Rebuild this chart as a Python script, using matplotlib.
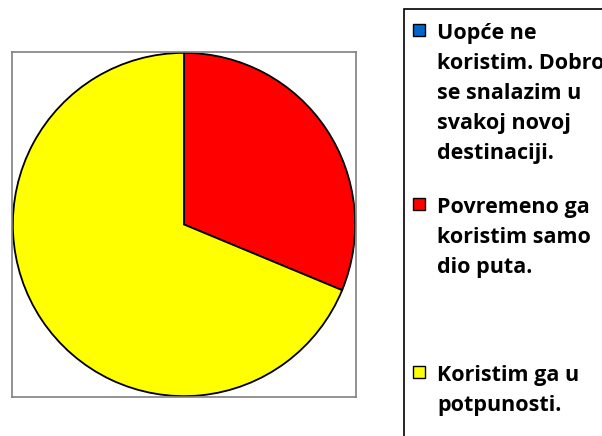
import matplotlib.pyplot as plt
from matplotlib.patches import Rectangle

# survey answers (counts)
labels = [
    "Uopće ne\nkoristim. Dobro\nse snalazim u\nsvakoj novoj\ndestinaciji.",
    "Povremeno ga\nkoristim samo\ndio puta.",
    "Koristim ga u\npotpunosti.",
]
values = [0, 5, 11]
colors = ["#0066CC", "#FF0000", "#FFFF00"]

W, H = 602, 436
fig = plt.figure(figsize=(W / 100, H / 100), dpi=100)

# pie area with grey frame
ax = fig.add_axes([12 / W, (H - 397) / H, 344 / W, 345 / H])
ax.pie(values, colors=colors, startangle=90, counterclock=False,
       wedgeprops=dict(edgecolor="black", linewidth=1.3), radius=1.0)
ax.set_xlim(-1.005, 1.005)
ax.set_ylim(-1.005, 1.005)
ax.set_aspect("auto")
ax.set_xticks([])
ax.set_yticks([])
ax.set_frame_on(True)
for s in ax.spines.values():
    s.set_color("#808080")
    s.set_linewidth(1.2)

# legend box, drawn by hand (runs off the right/bottom edge like the original)
fig.patches.append(Rectangle((404 / W, -0.05), 1.0, (H - 9) / H + 0.05,
                             transform=fig.transFigure, fill=False,
                             edgecolor="black", linewidth=1.2))

first_baseline = [39, 213, 381]
line_gap = 30
for lab, col, y0 in zip(labels, colors, first_baseline):
    fig.patches.append(Rectangle((413 / W, (H - y0 + 3) / H), 12 / W, 12 / H,
                                 transform=fig.transFigure, facecolor=col,
                                 edgecolor="black", linewidth=1.0))
    for i, line in enumerate(lab.split("\n")):
        fig.text(437 / W, (H - y0 - i * line_gap) / H, line,
                 fontsize=15.5, fontweight="bold", family="Open Sans",
                 va="baseline", ha="left")

fig.savefig("out.png", dpi=100)
